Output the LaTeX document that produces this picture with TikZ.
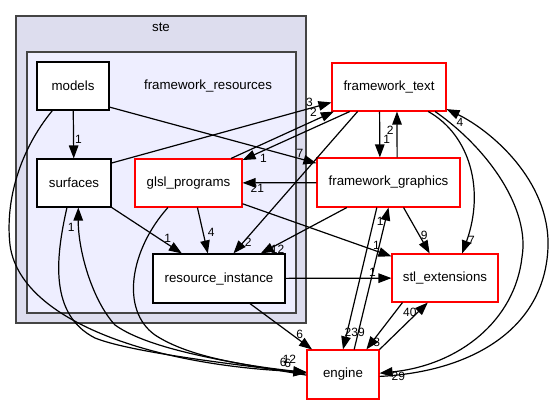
\documentclass[tikz,border=0pt]{standalone}
\usepackage{fontspec}
\setmainfont{Liberation Sans}
\usetikzlibrary{arrows.meta}
\definecolor{outerfill}{HTML}{DDDDEE}
\definecolor{innerfill}{HTML}{EEEEFF}
\definecolor{clusterline}{HTML}{444444}
\begin{document}
\begin{tikzpicture}[
  x=1pt, y=-1pt,
  cluster/.style={draw=clusterline, line width=2pt},
  dir/.style={rectangle, draw, fill=white, line width=1.1pt, inner sep=0pt, font=\fontsize{13.3}{16}\selectfont},
  reddir/.style={dir, draw=red},
  edge/.style={-{Triangle[length=13pt,width=9.5pt]}, line width=1.2pt},
  lab/.style={font=\fontsize{12}{12}\selectfont, inner sep=1pt}
]
\useasboundingbox (0,0) rectangle (553,404);
% clusters
\draw[cluster, fill=outerfill] (16,16) rectangle (306,323);
\node[font=\fontsize{13.3}{16}\selectfont] (stelab) at (161,27) {ste};
\draw[cluster, fill=innerfill] (27,52) rectangle (296,313);
\node[font=\fontsize{13.3}{16}\selectfont] (frlab) at (208,86) {framework\_resources};

\node[dir, minimum width=72pt, minimum height=48pt] (models) at (73,86) {models};
\node[dir, minimum width=74pt, minimum height=48pt] (surf) at (74,183) {surfaces};
\node[reddir, minimum width=107pt, minimum height=48pt] (glsl) at (188.5,183) {glsl\_programs};
\node[dir, minimum width=132pt, minimum height=49pt] (resinst) at (219,278.5) {resource\_instance};
\node[reddir, minimum width=114pt, minimum height=48pt] (fwtext) at (389,87) {framework\_text};
\node[reddir, minimum width=143pt, minimum height=49pt] (fwgfx) at (388.5,182.5) {framework\_graphics};
\node[reddir, minimum width=106pt, minimum height=48pt] (stlext) at (445,278) {stl\_extensions};
\node[reddir, minimum width=72pt, minimum height=49pt] (engine) at (343,374.5) {engine};

\draw[edge] (models) -- node[lab, pos=0.6, right] {1} (surf);
\draw[edge] (models.-30) -- node[lab, pos=0.92, above] {7} (fwgfx.165);
\draw[edge] (models.230) .. controls (20,150) and (5,200) .. (10,245)
  .. controls (20,320) and (150,365) .. node[lab, pos=0.95, above=2pt] {6} (engine.176);
\draw[edge] (surf.254) .. controls (55,260) and (50,315) .. (95,338)
  .. controls (130,352) and (230,364) .. node[lab, pos=0.92, above=2pt] {6} (engine.178);
\draw[edge] (engine.181) .. controls (230,362) and (150,350) .. (115,325)
  .. controls (92,300) and (78,250) .. node[lab, pos=0.85, left=3pt] {1} (surf.-80);
\draw[edge] (glsl.230) .. controls (130,250) and (120,310) .. (155,335)
  .. controls (190,358) and (250,366) .. node[lab, pos=0.9, above=5pt] {12} (engine.177);
\draw[edge] (surf.28) -- node[lab, pos=0.9, above] {3} (fwtext.195);
\draw[edge] (glsl.30) -- node[lab, pos=0.85, above left] {2} (fwtext.204);
\draw[edge] (fwtext.212) -- node[lab, pos=0.85, below right] {1} (glsl.23);
\draw[edge] (fwgfx) -- node[lab, pos=0.8, below] {21} (glsl);
\draw[edge] (glsl.-70) -- node[lab, pos=0.55, right=3pt] {4} (resinst.114);
\draw[edge] (surf.-33) -- node[lab, pos=0.8, above] {1} (resinst.146);
\draw[edge] (glsl.-21) -- node[lab, pos=0.9, above] {1} (stlext.158);
\draw[edge] (fwtext.218) -- node[lab, pos=0.92, right] {2} (resinst.60);
\draw[edge] (fwgfx.211) -- node[lab, pos=0.9, right] {12} (resinst.31);
\draw[edge] (resinst) -- node[lab, pos=0.82, above] {1} (stlext);
\draw[edge] (resinst.-39) -- node[lab, pos=0.8, above] {6} (engine.141);
\draw[edge] (fwtext.249) -- node[lab, pos=0.6, right=2pt] {1} (fwgfx.109);
\draw[edge] (fwgfx.71) -- node[lab, pos=0.6, left=2pt] {2} (fwtext.-72);
\draw[edge] (fwtext.-32) .. controls (470,135) and (485,190) .. node[lab, pos=0.93, right] {7} (stlext.55);
\draw[edge] (fwgfx.-59) -- node[lab, pos=0.6, right] {9} (stlext.122);
\draw[edge] (fwgfx.245) -- node[lab, pos=0.88, right=-4pt] {239} (engine.90);
\draw[edge] (engine.66) -- node[lab, pos=0.9, left] {1} (fwgfx.-90);
\draw[edge] (stlext.210) -- node[lab, pos=0.85, right] {8} (engine.47);
\draw[edge] (engine.north east) -- node[lab, pos=0.8, left] {40} (stlext.235);
\draw[edge] (fwtext.-28) .. controls (490,150) and (530,210) .. (522,257)
  .. controls (515,320) and (460,365) .. node[lab, pos=0.92, below] {29} (engine.2);
\draw[edge] (engine.-3) .. controls (470,372) and (545,330) .. (548,247)
  .. controls (550,180) and (490,130) .. node[lab, pos=0.9, below] {4} (fwtext.-21);
\end{tikzpicture}
\end{document}
